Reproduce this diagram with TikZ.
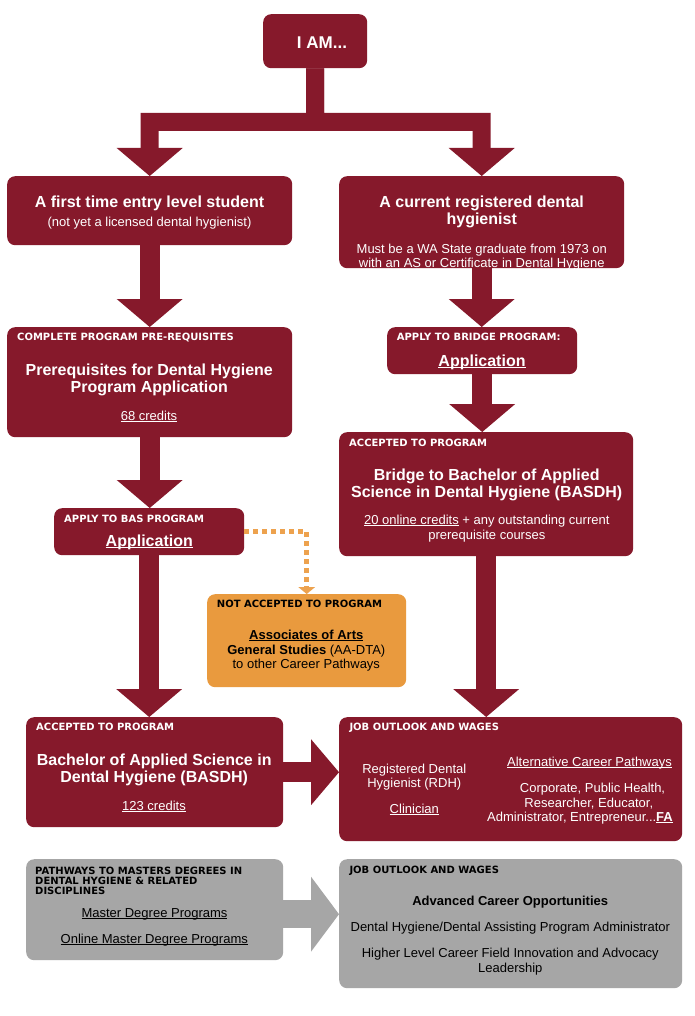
\documentclass[tikz,border=0pt]{standalone}
\usepackage{fontspec}
\setmainfont{Liberation Sans}
\newfontfamily\hdrfont{DejaVu Sans}
\usetikzlibrary{arrows.meta}
\definecolor{mar}{HTML}{86192B}
\definecolor{org}{HTML}{E99A3E}
\definecolor{orgd}{HTML}{EDA24E}
\definecolor{gry}{HTML}{A6A6A6}
\newcommand\uln[1]{\setbox0=\hbox{#1}\rlap{\rule[-1.4pt]{\wd0}{0.9pt}}\box0\relax}
\tikzset{
  box/.style={rounded corners=8pt, inner sep=0pt, anchor=north west, draw=none},
  mbox/.style={box, fill=mar},
  t/.style={inner sep=0pt, anchor=base, text=white},
  hd/.style={inner sep=0pt, anchor=base west, font=\hdrfont\bfseries\fontsize{10}{11}\selectfont, text=white},
  ttl/.style={t, font=\bfseries\fontsize{16}{18}\selectfont},
  body/.style={t, font=\fontsize{13}{15}\selectfont},
  bigarrow/.style={draw=mar, line width=20pt, -{Triangle[width=66pt,length=28pt,line width=0pt]}},
  grayarrow/.style={draw=gry, line width=28pt, -{Triangle[width=75pt,length=28pt,line width=0pt]}},
}
\begin{document}
\begin{tikzpicture}[x=1pt,y=-1pt]
\useasboundingbox[fill=white] (0,0) rectangle (694,1016);
% boxes
\node[mbox, minimum width=104, minimum height=54] (iam) at (263,14) {};
\node[mbox, minimum width=285, minimum height=69] (first) at (7,176) {};
\node[mbox, minimum width=285, minimum height=92] (second) at (339,176) {};
\node[mbox, minimum width=285, minimum height=110] (prereq) at (7,327) {};
\node[mbox, minimum width=190, minimum height=47] (bapply) at (387,327) {};
\node[mbox, minimum width=294, minimum height=124] (bacc) at (339,432) {};
\node[mbox, minimum width=190, minimum height=47] (bapp) at (54,508) {};
\node[box, fill=org, minimum width=199, minimum height=93] (notacc) at (207,594) {};
\node[mbox, minimum width=257, minimum height=110] (bas) at (26,717) {};
\node[mbox, minimum width=343, minimum height=124] (job) at (339,717) {};
\node[box, fill=gry, minimum width=257, minimum height=101] (mpath) at (26,859) {};
\node[box, fill=gry, minimum width=343, minimum height=129] (adv) at (339,859) {};
% connectors
\coordinate (j) at (315,122);
\draw[mar, line width=18pt, line join=miter, -{Triangle[width=66pt,length=28pt,line width=0pt]}] (iam.south) -- (j) -| (first.north);
\draw[mar, line width=18pt, line join=miter, -{Triangle[width=66pt,length=28pt,line width=0pt]}] (iam.south) -- (j) -| (second.north);
\draw[bigarrow] (first.south) -- (prereq.north);
\draw[bigarrow] (prereq.south) -- (prereq.south |- bapp.north);
\draw[bigarrow] (bapp.south) -- (bapp.south |- bas.north);
\draw[bigarrow] (second.south) -- (second.south |- bapply.north);
\draw[bigarrow] (bapply.south) -- (bapply.south |- bacc.north);
\draw[bigarrow] (bacc.south) -- (bacc.south |- job.north);
\draw[bigarrow] (bas.east) -- (bas.east -| job.west);
\draw[grayarrow] ([yshift=-4.5pt]mpath.east) -- ([yshift=-4.5pt]mpath.east -| adv.west);
\draw[orgd, line width=5pt, dash pattern=on 5pt off 4pt, -{Triangle[width=17pt,length=7pt,line width=0pt]}] (bapp.east) -| (notacc.north);
% texts
\node[ttl, font=\bfseries\fontsize{17}{19}\selectfont] (iamT) at (322,49) {I AM...};
\node[ttl] (firstT) at (149.5,207.5) {A first time entry level student};
\node[body] (firstS) at (149.5,226) {(not yet a licensed dental hygienist)};
\node[ttl] (secT1) at (481.7,207.7) {A current registered dental};
\node[ttl] (secT2) at (481.7,225) {hygienist};
\node[body] (secS1) at (481.8,253.3) {Must be a WA State graduate from 1973 on};
\node[body] (secS2) at (481.8,267.7) {with an AS or Certificate in Dental Hygiene};
\node[hd] (preH) at (17,340.7) {COMPLETE PROGRAM PRE-REQUISITES};
\node[ttl] (preT1) at (149.3,375) {Prerequisites for Dental Hygiene};
\node[ttl] (preT2) at (149.3,392.3) {Program Application};
\node[body] (preC) at (149,420) {\uln{68 credits}};
\node[hd] (bapH) at (396.7,340.7) {APPLY TO BRIDGE PROGRAM:};
\node[ttl] (bapA) at (482,366) {\uln{Application}};
\node[hd] (baccH) at (349,446) {ACCEPTED TO PROGRAM};
\node[ttl] (baccT1) at (486.7,480) {Bridge to Bachelor of Applied};
\node[ttl] (baccT2) at (486.7,497.7) {Science in Dental Hygiene (BASDH)};
\node[body] (baccS1) at (486.8,524.3) {\uln{20 online credits} + any outstanding current};
\node[body] (baccS2) at (486.8,539.3) {prerequisite courses};
\node[hd] (bappH) at (64,522.3) {APPLY TO BAS PROGRAM};
\node[ttl] (bappA) at (149.3,546.7) {\uln{Application}};
\node[hd, text=black] (naH) at (216.7,607.3) {NOT ACCEPTED TO PROGRAM};
\node[body, text=black, font=\bfseries\fontsize{13}{15}\selectfont] (naT1) at (306.3,639) {\uln{Associates of Arts}};
\node[body, text=black] (naT2) at (306.3,654) {\textbf{General Studies} (AA-DTA)};
\node[body, text=black] (naT3) at (306.3,668.3) {to other Career Pathways};
\node[hd] (basH) at (36,730.7) {ACCEPTED TO PROGRAM};
\node[ttl] (basT1) at (154.2,765) {Bachelor of Applied Science in};
\node[ttl] (basT2) at (154.2,782.7) {Dental Hygiene (BASDH)};
\node[body] (basC) at (154,810) {\uln{123 credits}};
\node[hd] (jobH) at (349.3,730.7) {JOB OUTLOOK AND WAGES};
\node[body] (jobL1) at (414.3,773.3) {Registered Dental};
\node[body] (jobL2) at (414.3,787.3) {Hygienist (RDH)};
\node[body] (jobL3) at (414.3,813.3) {\uln{Clinician}};
\node[body] (jobR1) at (589.5,766) {\uln{Alternative Career Pathways}};
\node[body] (jobR2) at (592.5,792.7) {Corporate, Public Health,};
\node[body] (jobR3) at (588.8,807.3) {Researcher, Educator,};
\node[body] (jobR4) at (580,821.7) {Administrator, Entrepreneur...\uln{\textbf{FA}}};
\node[hd, text=black] (mpH1) at (35,874) {PATHWAYS TO MASTERS DEGREES IN};
\node[hd, text=black] (mpH2) at (35,884.7) {DENTAL HYGIENE \& RELATED};
\node[hd, text=black] (mpH3) at (35,894.7) {DISCIPLINES};
\node[body, text=black] (mpL1) at (154.5,917.3) {\uln{Master Degree Programs}};
\node[body, text=black] (mpL2) at (154.3,943.3) {\uln{Online Master Degree Programs}};
\node[hd, text=black] (advH) at (349.3,873.3) {JOB OUTLOOK AND WAGES};
\node[body, text=black, font=\bfseries\fontsize{13}{15}\selectfont] (advT) at (510.2,905) {Advanced Career Opportunities};
\node[body, text=black] (advL1) at (510.3,931.7) {Dental Hygiene/Dental Assisting Program Administrator};
\node[body, text=black] (advL2) at (510.3,957.3) {Higher Level Career Field Innovation and Advocacy};
\node[body, text=black] (advL3) at (510.3,972.3) {Leadership};
\end{tikzpicture}
\end{document}
